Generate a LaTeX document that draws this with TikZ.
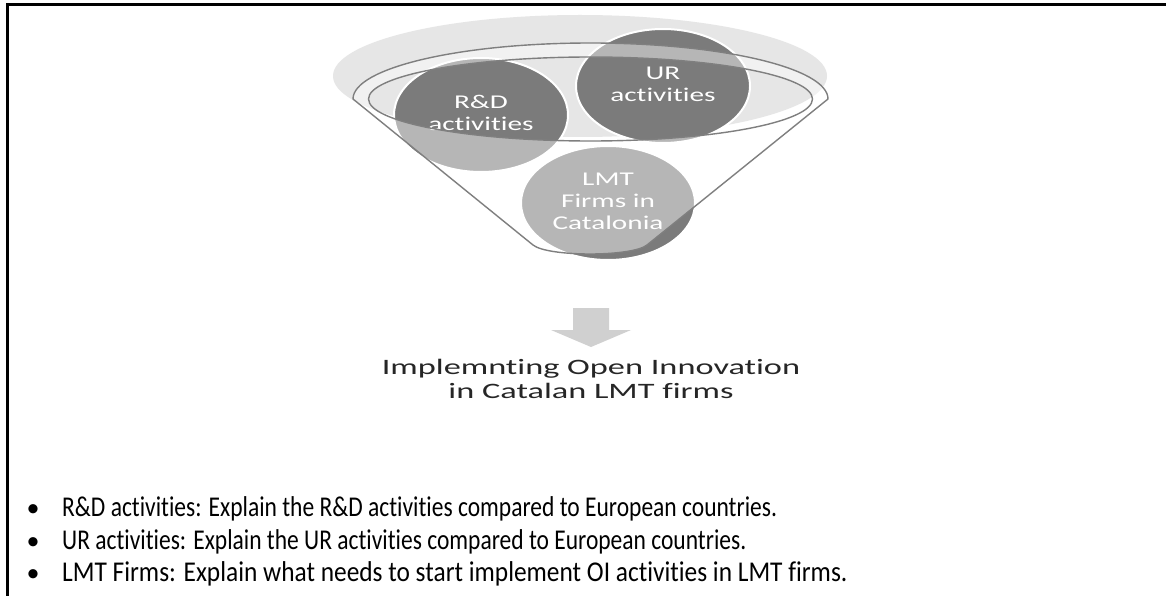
\documentclass[tikz,border=0pt]{standalone}
\usepackage{fontspec}
\setmainfont{Carlito}[Ligatures=NoCommon]
\usetikzlibrary{shapes.geometric}
\definecolor{circgray}{HTML}{7B7B7B}
\definecolor{bggray}{HTML}{E6E6E6}
\definecolor{linegray}{HTML}{7F7F7F}
\definecolor{arrowgray}{HTML}{D0D0D0}
\begin{document}
\begin{tikzpicture}[x=1pt,y=-1pt,
  circ/.style={ellipse, minimum width=174pt, minimum height=114pt, inner sep=0pt,
    fill=circgray, draw=white, line width=2pt, text=white,
    font=\fontsize{19.5}{22}\selectfont},
  funline/.style={draw=linegray, line width=1.4pt},
  bullettext/.style={anchor=base west, inner sep=0pt, font=\fontsize{23.5}{28}\selectfont},
  bulletdot/.style={anchor=base, inner sep=0pt, font=\fontsize{26}{28}\selectfont},
]
\useasboundingbox (0,0) rectangle (1166,596);
\fill[white] (0,0) rectangle (1166,596);
\draw[line width=3pt] (7,596) -- (7,5) -- (1166,5);

% background ellipse
\fill[bggray] (580,76) ellipse [x radius=247pt, y radius=61pt];

% circles
\node[circ] (rd) at (481,115) {\scalebox{1.5}[1]{\begin{tabular}{@{}c@{}}R\&D\\activities\end{tabular}}};
\node[circ] (ur) at (663,86) {\scalebox{1.5}[1]{\begin{tabular}{@{}c@{}}UR\\activities\end{tabular}}};
\node[circ] (lmt) at (608,203) {\scalebox{1.5}[1]{\begin{tabular}{@{}c@{}}LMT\\Firms in\\Catalonia\end{tabular}}};

% funnel overlay
\fill[white, fill opacity=0.45, even odd rule]
  (353,99) arc[start angle=180, end angle=0, x radius=237.5pt, y radius=56pt]
  -- (647,245) .. controls (632,257) and (548,257) .. (533,245) -- cycle
  (590.5,99) ellipse [x radius=222pt, y radius=42pt];
\draw[funline, line join=round]
  (353,99) arc[start angle=180, end angle=0, x radius=237.5pt, y radius=56pt]
  -- (647,245) .. controls (632,257) and (548,257) .. (533,245) -- cycle;
\draw[funline] (590.5,99) ellipse [x radius=222pt, y radius=42pt];

% arrow
\fill[arrowgray] (573,308) -- (609,308) -- (609,330) -- (631,330) -- (591,347) -- (551,330) -- (573,330) -- cycle;

% result text
\node[anchor=base, inner sep=0pt, text=black!85, font=\fontsize{22}{24}\selectfont] (oi) at (591,374)
  {\scalebox{1.56}[1]{\begin{tabular}[t]{@{}c@{}}Implemnting Open Innovation\\in Catalan LMT firms\end{tabular}}};

% bullets
\node[bulletdot] (d1) at (33,516) {\textbullet};
\node[bulletdot] (d2) at (33,549) {\textbullet};
\node[bulletdot] (d3) at (33,581) {\textbullet};
\node[bullettext] (b1) at (62,516) {\scalebox{1}[1.22]{R\&D activities: Explain the R\&D activities compared to European countries.}};
\node[bullettext] (b2) at (62,549) {\scalebox{1}[1.22]{UR activities: Explain the UR activities compared to European countries.}};
\node[bullettext] (b3) at (62,581) {\scalebox{1.08}[1.22]{LMT Firms: Explain what needs to start implement OI activities in LMT firms.}};
\end{tikzpicture}
\end{document}
